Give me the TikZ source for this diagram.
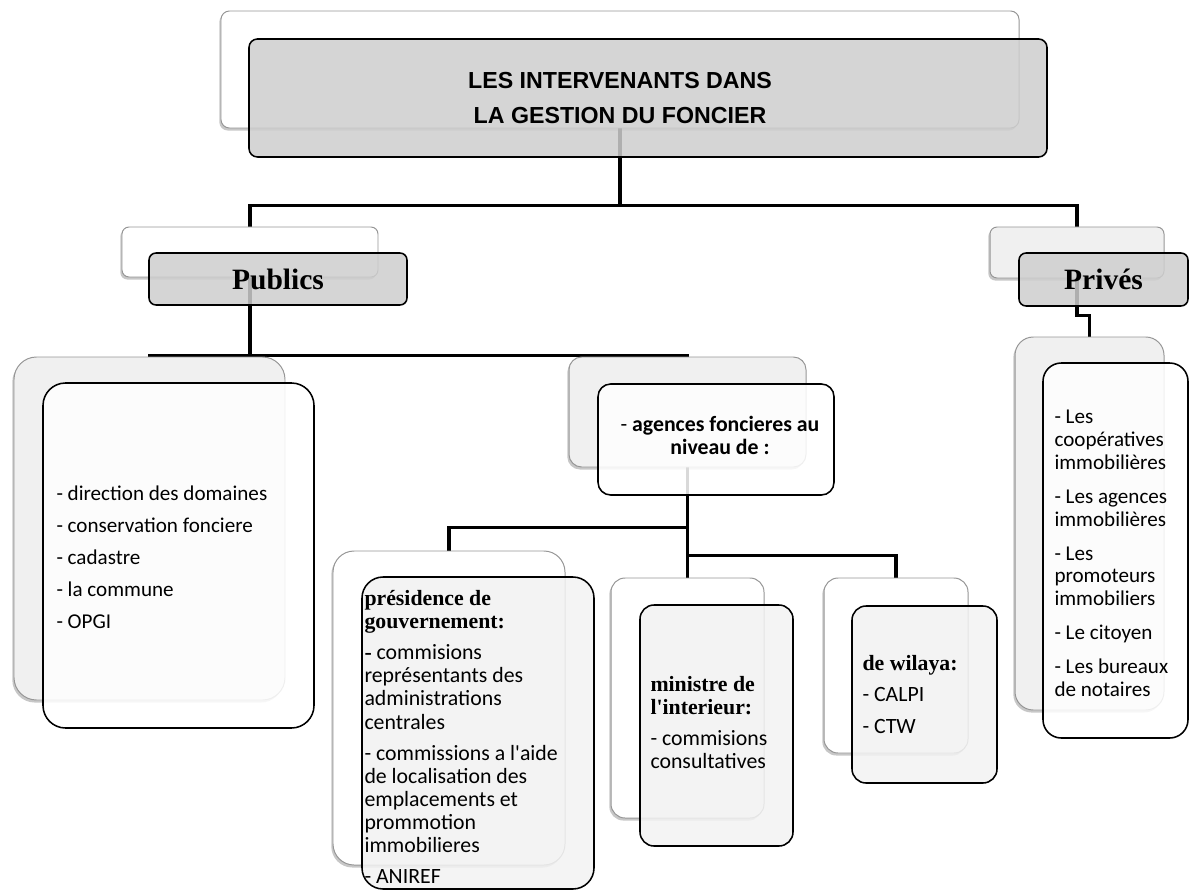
\documentclass[tikz,border=0pt]{standalone}
\usepackage{fontspec}
\setmainfont{Carlito}
\newfontfamily\timesf{Liberation Serif}
\newfontfamily\arialf{Liberation Sans}
\usetikzlibrary{positioning,fit,shadows,backgrounds}
\definecolor{igHead}{RGB}{206,206,206}
\definecolor{igLight}{RGB}{240,240,240}
\definecolor{igPale}{RGB}{242,242,242}
\definecolor{igEdge}{RGB}{150,150,150}
\newcommand{\hb}[1]{{\timesf\bfseries #1}}

\begin{document}
\begin{tikzpicture}[
  x=0.025cm, y=-0.025cm,
  bk/.style={draw=igEdge, line width=0.7pt, inner sep=0pt,
    drop shadow={shadow xshift=-1.2pt, shadow yshift=-1.8pt, fill=black, opacity=0.22}},
  fr/.style={draw=black, line width=1.1pt, fill=white, fill opacity=0.85, inner sep=0pt},
  hd/.style={fr, fill=igHead, rounded corners=5pt},
  hdt/.style={inner sep=0pt, font=\timesf\bfseries\fontsize{21}{24}\selectfont},
  tx/.style={anchor=west, align=left, inner sep=0pt, font=\fontsize{15.5}{16.4}\selectfont},
  link/.style={line width=2.8pt, black}
]
\useasboundingbox (0,0) rectangle (1189,892);

% back cards
\foreach \n/\f/\r/\a/\b/\c/\d in {
    titleB/white/6/221/11/1019/128, pubB/white/5/122/227/378/277,
    privB/igLight/5/990/227/1164/278, domB/igLight/16/14/357/285/700,
    agB/igLight/9/569/357/806/467, presB/white/15/333/551/565/865,
    minB/white/10/611/578/764/818, wilB/white/10/824/578/968/753,
    rB/igLight/13/1015/337/1164/710}
  \node[bk, fill=\f, rounded corners=\r pt, fit={(\a,\b) (\c,\d)}] (\n) {};

% front cards
\node[hd, rounded corners=6pt, fit={(249,39) (1047,157)}] (titleF) {};
\node[hd, fit={(149,253) (407,305)}] (pubF) {};
\node[hd, fit={(1019,253) (1188,306)}] (privF) {};
\node[fr, rounded corners=16pt, fit={(43,383) (314,728)}] (domF) {};
\node[fr, rounded corners=9pt, fit={(598,384) (834,495)}] (agF) {};
\node[fr, fill=igPale, rounded corners=15pt, fit={(362,577) (594,889)}] (presF) {};
\node[fr, fill=igPale, rounded corners=10pt, fit={(640,605) (793,846)}] (minF) {};
\node[fr, fill=igPale, rounded corners=10pt, fit={(852,606) (997,783)}] (wilF) {};
\node[fr, rounded corners=13pt, fit={(1043,363) (1188,738)}] (rF) {};

% texts
\node[align=center, font=\arialf\bfseries\fontsize{16.5}{24.2}\selectfont] (ttlT)
  at (titleB |- titleF) {LES INTERVENANTS DANS\\LA GESTION DU FONCIER};
\node[hdt] (pubT) at (pubF) {Publics};
\node[hdt] (privT) at (privF) {Privés};
\node[tx, font=\fontsize{15}{22.8}\selectfont] (domT) at ([shift={(14,2)}]domF.west)
  {- direction des domaines\\- conservation fonciere\\- cadastre\\- la commune\\- OPGI};
\node[tx, anchor=center, align=center] (agT) at ([shift={(4,-4)}]agF.center)
  {- \textbf{agences foncieres au}\\\textbf{niveau de :}};
\node[tx] (presT) at ([shift={(3,4)}]presF.west)
  {\hb{présidence de}\\\hb{gouvernement:}\\[5.7pt]
   \hb{-} commisions\\représentants des\\administrations\\centrales\\[5.7pt]
   - commissions a l\textquotesingle aide\\de localisation des\\emplacements et\\prommotion\\immobilieres\\[5.7pt]
   - ANIREF};
\node[tx] (minT) at ([shift={(11,-3)}]minF.west)
  {\hb{ministre de}\\\hb{l\textquotesingle interieur:}\\[5.7pt]- commisions\\consultatives};
\node[tx] (wilT) at ([shift={(11,0)}]wilF.west)
  {\hb{de wilaya:}\\[5.7pt]- CALPI\\[5.7pt]- CTW};
\node[tx, font=\fontsize{15}{16.2}\selectfont] (rT) at ([shift={(12,3)}]rF.west)
  {- Les\\coopératives\\immobilières\\[8pt]- Les agences\\immobilières\\[8pt]- Les\\promoteurs\\immobiliers\\[8pt]- Le citoyen\\[8pt]- Les bureaux\\de notaires};

% connectors
\begin{scope}[on background layer]
\draw[link] (titleB.south) -- ++(0,77) -| (pubB.north);
\draw[link] (titleB.south) -- ++(0,77) -| (privB.north);
\draw[link] (pubB.south) -- ++(0,78) -| (domB.north);
\draw[link] (pubB.south) -- ++(0,78) -| (agB.north);
\draw[link] (agB.south) -- ++(0,60) -| (presB.north);
\draw[link] (agB.south) -- ++(0,88) -| (wilB.north);
\draw[link] (agB.south) -- (minB.north);
\draw[link] (privB.south) -- ++(0,37) -| (rB.north);
\end{scope}
\end{tikzpicture}
\end{document}
